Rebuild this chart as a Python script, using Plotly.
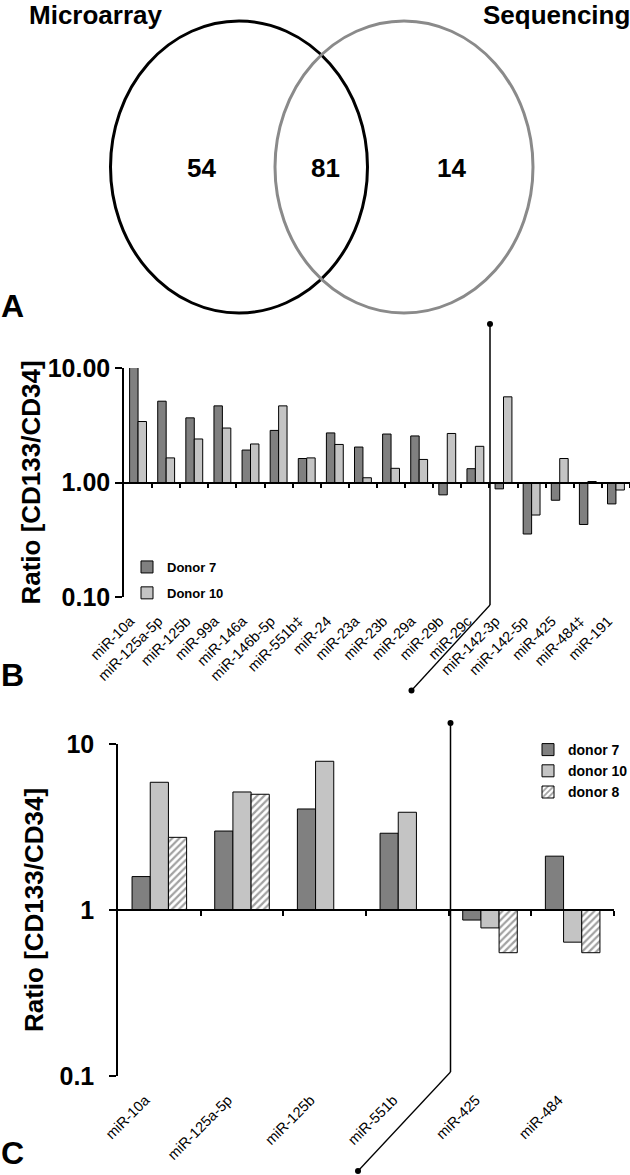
import plotly.graph_objects as go

W, H = 630, 1175
FONT = "Liberation Sans, Arial, sans-serif"

# ---- data ----
# panel A: Venn counts (microarray only, both, sequencing only)
venn_names = ["Microarray", "Sequencing"]
venn_counts = [54, 81, 14]

# panel B
mirs_b = ["miR-10a", "miR-125a-5p", "miR-125b", "miR-99a", "miR-146a", "miR-146b-5p",
          "miR-551b‡", "miR-24", "miR-23a", "miR-23b", "miR-29a", "miR-29b", "miR-29c",
          "miR-142-3p", "miR-142-5p", "miR-425", "miR-484‡", "miR-191"]
donor7_b = [10.1, 5.13, 3.67, 4.67, 1.92, 2.85, 1.62, 2.71, 2.04, 2.65, 2.55, 0.78,
            1.32, 0.88, 0.355, 0.70, 0.43, 0.65]
donor10_b = [3.41, 1.64, 2.40, 2.99, 2.17, 4.67, 1.64, 2.15, 1.10, 1.33, 1.59, 2.68,
             2.07, 5.6, 0.52, 1.62, 1.02, 0.86]

# panel C
mirs_c = ["miR-10a", "miR-125a-5p", "miR-125b", "miR-551b", "miR-425", "miR-484"]
donor7_c = [1.59, 2.99, 4.06, 2.90, 0.87, 2.11]
donor10_c = [5.88, 5.14, 7.87, 3.88, 0.78, 0.64]
donor8_c = [2.74, 4.98, None, None, 0.553, 0.553]

DARK = "#808080"
LIGHT = "#c4c4c4"


def px_x(x):
    return x / W


def px_y(y):
    return 1 - y / H


def from_one(vals):
    # bar length measured from the 1.0 baseline
    return [None if v is None else v - 1 for v in vals]


# pixel layout of the panels
B_L, B_R, B_T, B_B = 124, 630, 368, 597
C_L, C_R, C_T, C_B = 118, 614, 744, 1076

fig = go.Figure()

xb = list(range(len(mirs_b)))
xc = list(range(len(mirs_c)))

fig.add_trace(go.Bar(x=xb, y=from_one(donor7_b), base=1, name="Donor 7",
                     width=0.3, offset=-0.3, marker=dict(color=DARK, line=dict(color="black", width=1)),
                     xaxis="x", yaxis="y", legend="legend", legendgroup="b7"))
fig.add_trace(go.Bar(x=xb, y=from_one(donor10_b), base=1, name="Donor 10",
                     width=0.3, offset=0.0, marker=dict(color=LIGHT, line=dict(color="black", width=1)),
                     xaxis="x", yaxis="y", legend="legend", legendgroup="b10"))

fig.add_trace(go.Bar(x=xc, y=from_one(donor7_c), base=1, name="donor 7",
                     width=0.22, offset=-0.33, marker=dict(color=DARK, line=dict(color="black", width=1)),
                     xaxis="x3", yaxis="y3", legend="legend2", legendgroup="c7"))
fig.add_trace(go.Bar(x=xc, y=from_one(donor10_c), base=1, name="donor 10",
                     width=0.22, offset=-0.11, marker=dict(color=LIGHT, line=dict(color="black", width=1)),
                     xaxis="x3", yaxis="y3", legend="legend2", legendgroup="c10"))
fig.add_trace(go.Bar(x=xc, y=from_one(donor8_c), base=1, name="donor 8",
                     width=0.22, offset=0.11,
                     marker=dict(color="white", line=dict(color="black", width=1),
                                 pattern=dict(shape="/", fgcolor="#444444", bgcolor="white",
                                              size=5, solidity=0.45)),
                     xaxis="x3", yaxis="y3", legend="legend2", legendgroup="c8"))

# invisible carriers so the label-only axes get drawn
for xa, ya, xs in (("x2", "y", xb), ("x4", "y3", xc)):
    fig.add_trace(go.Scatter(x=xs, y=[1] * len(xs), xaxis=xa, yaxis=ya, mode="markers",
                             marker=dict(opacity=0), showlegend=False, hoverinfo="skip"))

axis_line = dict(showline=True, linecolor="black", linewidth=1.5, showgrid=False,
                 zeroline=False, automargin=False)
label_axis = dict(side="bottom", tickmode="array", tickangle=-45, ticklabelstandoff=12,
                  ticks="", showline=False, showgrid=False, zeroline=False, automargin=False,
                  tickfont=dict(family=FONT, size=14.5, color="black"))

# panel B axes
fig.update_layout(
    xaxis=dict(domain=[px_x(B_L), px_x(B_R)], range=[-0.5, len(mirs_b) - 0.5],
               anchor="free", position=px_y((B_T + B_B) / 2),
               tickmode="array", tickvals=[i + 0.5 for i in xb], showticklabels=False,
               ticks="outside", ticklen=5, tickcolor="black", tickwidth=1.5, **axis_line),
    xaxis2=dict(overlaying="x", anchor="y", range=[-0.5, len(mirs_b) - 0.5],
                tickvals=[i - 0.28 for i in xb], ticktext=mirs_b, **label_axis),
    yaxis=dict(domain=[px_y(B_B), px_y(B_T)], type="log", range=[-1, 1], anchor="x",
               tickmode="array", tickvals=[0.1, 1, 10], ticktext=["0.10", "1.00", "10.00"],
               ticks="outside", ticklen=7, tickcolor="black", tickwidth=1.5, ticklabelstandoff=0,
               tickfont=dict(family=FONT, size=25, color="black", weight="bold"),
               title=dict(text="Ratio [CD133/CD34]", standoff=0,
                          font=dict(family=FONT, size=26, color="black", weight="bold")),
               **axis_line),
)

# panel C axes
fig.update_layout(
    xaxis3=dict(domain=[px_x(C_L), px_x(C_R)], range=[-0.5, len(mirs_c) - 0.5],
                anchor="free", position=px_y((C_T + C_B) / 2),
                tickmode="array", tickvals=[i + 0.5 for i in xc], showticklabels=False,
                ticks="outside", ticklen=5, tickcolor="black", tickwidth=1.5, **axis_line),
    xaxis4=dict(overlaying="x3", anchor="y3", range=[-0.5, len(mirs_c) - 0.5],
                tickvals=[i - 0.17 for i in xc], ticktext=mirs_c, **label_axis),
    yaxis3=dict(domain=[px_y(C_B), px_y(C_T)], type="log", range=[-1, 1], anchor="x3",
                tickmode="array", tickvals=[0.1, 1, 10], ticktext=["0.1", "1", "10"],
                ticks="outside", ticklen=7, tickcolor="black", tickwidth=1.5, ticklabelstandoff=10,
                tickfont=dict(family=FONT, size=25, color="black", weight="bold"),
                title=dict(text="Ratio [CD133/CD34]", standoff=8,
                           font=dict(family=FONT, size=26, color="black", weight="bold")),
                **axis_line),
)

# panel A: hidden axes in pixel units
A_BOTTOM = 330
fig.update_layout(
    xaxis5=dict(domain=[0, 1], range=[0, W], visible=False, anchor="y5", automargin=False),
    yaxis5=dict(domain=[px_y(A_BOTTOM), 1], range=[A_BOTTOM, 0], visible=False, anchor="x5",
                automargin=False),
)
venn_circles = [((239, 167), 128.5, 146, "black"), ((404, 167), 129, 146, "#8a8a8a")]
shapes = []
for (cx, cy), rx, ry, col in venn_circles:
    shapes.append(dict(type="circle", xref="x5", yref="y5", x0=cx - rx, x1=cx + rx,
                       y0=cy - ry, y1=cy + ry, line=dict(color=col, width=3)))

annotations = []
for name, (x, y) in zip(venn_names, [(95, 15), (556, 15)]):
    annotations.append(dict(text=name, x=x, y=y, xref="x5", yref="y5", showarrow=False,
                            xanchor="center", yanchor="middle",
                            font=dict(family=FONT, size=26, color="black", weight="bold")))
for cnt, x in zip(venn_counts, [201, 325, 451]):
    annotations.append(dict(text=str(cnt), x=x, y=168, xref="x5", yref="y5", showarrow=False,
                            xanchor="center", yanchor="middle",
                            font=dict(family=FONT, size=26, color="black", weight="bold")))

for letter, (x, y) in zip(["A", "B", "C"], [(12, 306), (12, 675), (12, 1153)]):
    annotations.append(dict(text=letter, x=px_x(x), y=px_y(y), xref="paper", yref="paper",
                            showarrow=False, xanchor="center", yanchor="middle",
                            font=dict(family=FONT, size=32, color="black", weight="bold")))


# separator lines with dot ends (paper coordinates)
def pointer(top, bend, end):
    out = [dict(type="line", xref="paper", yref="paper", x0=px_x(top[0]), y0=px_y(top[1]),
                x1=px_x(bend[0]), y1=px_y(bend[1]), line=dict(color="black", width=1.5)),
           dict(type="line", xref="paper", yref="paper", x0=px_x(bend[0]), y0=px_y(bend[1]),
                x1=px_x(end[0]), y1=px_y(end[1]), line=dict(color="black", width=1.3))]
    for (x, y) in (top, end):
        out.append(dict(type="circle", xref="paper", yref="paper", x0=px_x(x - 3), x1=px_x(x + 3),
                        y0=px_y(y + 3), y1=px_y(y - 3), fillcolor="black",
                        line=dict(color="black", width=0)))
    return out


shapes += pointer((490, 324), (490, 605), (411.5, 690.5))
shapes += pointer((450.5, 723), (450.5, 1072), (358, 1171))

fig.update_layout(
    width=W, height=H, margin=dict(l=0, r=0, t=0, b=0, autoexpand=False),
    paper_bgcolor="white", plot_bgcolor="white",
    font=dict(family=FONT, color="black"),
    shapes=shapes, annotations=annotations,
    showlegend=True,
    legend=dict(x=px_x(127), y=px_y(552), xanchor="left", yanchor="top",
                bgcolor="rgba(0,0,0,0)", tracegroupgap=6,
                font=dict(family=FONT, size=13, color="black", weight="bold")),
    legend2=dict(x=px_x(528), y=px_y(734), xanchor="left", yanchor="top",
                 bgcolor="rgba(0,0,0,0)", tracegroupgap=0,
                 font=dict(family=FONT, size=14, color="black", weight="bold")),
)

# page body margin would shift the 630x1175 figure off the window
fig.write_html("out.html", config={"displayModeBar": False},
               post_script="document.body.style.margin='0';")
